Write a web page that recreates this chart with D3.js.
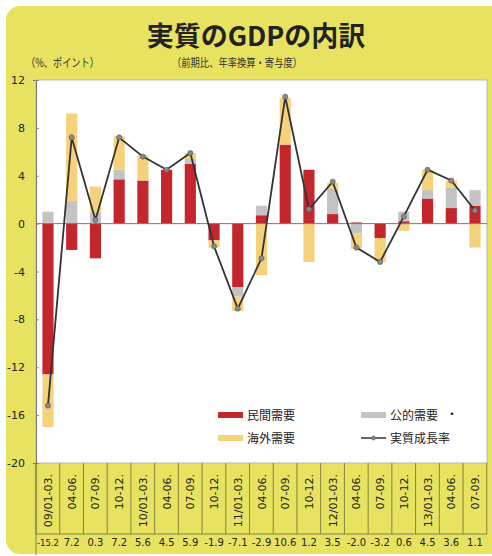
<!DOCTYPE html>
<html>
<head>
<meta charset="utf-8">
<script src="https://cdn.jsdelivr.net/npm/d3@7"></script>
<style>
  body { margin: 0; background: #fff; }
  svg { display: block; }
</style>
</head>
<body>
<svg></svg>
<script>
// quarters (label shown on the axis)
const categories = ["09/01-03.", "04-06.", "07-09.", "10-12.", "10/01-03.", "04-06.", "07-09.", "10-12.",
    "11/01-03.", "04-06.", "07-09.", "10-12.", "12/01-03.", "04-06.", "07-09.", "10-12.",
    "13/01-03.", "04-06.", "07-09."];

// contributions (% points)
const privateDemand = [-12.6, -2.2, -2.9, 3.7, 3.6, 4.5, 5.0, -1.4, -5.3, 0.7, 6.6, 4.5, 0.8, 0.1, -1.2, 0.2, 2.1, 1.3, 1.5];
const publicDemand = [1.0, 1.9, 0.9, 0.8, 0, 0, 0.4, 0, -0.8, 0.8, 0, 0, 2.1, -0.8, 0, 0.8, 0.7, 1.7, 1.3];
const externalDemand = [-4.4, 7.3, 2.2, 2.8, 2.1, 0, 0.5, -0.6, -1.2, -4.3, 3.9, -3.2, 0.5, -1.3, -2.0, -0.6, 1.7, 0.6, -2.0];
const growth = [-15.2, 7.2, 0.3, 7.2, 5.6, 4.5, 5.9, -1.9, -7.1, -2.9, 10.6, 1.2, 3.5, -2.0, -3.2, 0.6, 4.5, 3.6, 1.1];

const yTicks = [12, 8, 4, 0, -4, -8, -12, -16, -20];

const width = 492, height = 556;
const svg = d3.select("svg").attr("width", width).attr("height", height);

const jp = "'Noto Sans CJK JP', sans-serif";
const num = "'DejaVu Sans', Verdana, sans-serif";
const fmt = v => d3.format(".1f")(v).replace("\u2212", "-");

// yellow page
svg.append("rect")
    .attr("x", 6).attr("y", 6)
    .attr("width", 510).attr("height", 548)
    .attr("rx", 14)
    .attr("fill", "#e7e360");

// title
svg.append("text")
    .attr("x", 256).attr("y", 46)
    .attr("text-anchor", "middle")
    .attr("font-family", jp).attr("font-weight", 700)
    .attr("font-size", 27)
    .attr("fill", "#222")
    .text("実質のGDPの内訳");

svg.append("text")
    .attr("x", 26).attr("y", 67)
    .attr("font-family", jp).attr("font-size", 11.5)
    .attr("textLength", 73).attr("lengthAdjust", "spacingAndGlyphs")
    .attr("fill", "#333")
    .text("（%、ポイント）");
svg.append("text")
    .attr("x", 172).attr("y", 67)
    .attr("font-family", jp).attr("font-size", 11.5)
    .attr("textLength", 130).attr("lengthAdjust", "spacingAndGlyphs")
    .attr("fill", "#333")
    .text("（前期比、年率換算・寄与度）");

// scales
const plotL = 36, plotR = 487, plotT = 80, plotB = 463;
const x = d3.scaleBand()
    .domain(d3.range(categories.length))
    .range([plotL, plotR])
    .paddingInner(0.53).paddingOuter(0.27);
const y = d3.scaleLinear().domain([-20, 12]).range([plotB, plotT]);
const step = x.step();

// plot area
svg.append("rect")
    .attr("x", plotL).attr("y", plotT)
    .attr("width", plotR - plotL).attr("height", plotB - plotT)
    .attr("fill", "#fff")
    .attr("stroke", "#aaa").attr("stroke-width", 0.8);

// y axis
const yAxis = svg.append("g")
    .attr("transform", `translate(${plotL},0)`)
    .call(d3.axisLeft(y).tickValues(yTicks).tickSize(3).tickPadding(8).tickFormat(d => String(d)));
yAxis.select(".domain").attr("stroke", "#777");
yAxis.selectAll(".tick line").attr("stroke", "#888").attr("transform", "translate(3,0)");
yAxis.selectAll("text")
    .attr("font-family", num).attr("font-size", 11)
    .attr("fill", "#222");

// stacked bars
const rows = categories.map((c, i) => ({
    i: i,
    priv: privateDemand[i],
    pub: publicDemand[i],
    ext: externalDemand[i]
}));
const keys = ["priv", "pub", "ext"];
const colors = { priv: "#c4262e", pub: "#c3c3c3", ext: "#f4d27c" };
const series = d3.stack().keys(keys).offset(d3.stackOffsetDiverging)(rows);

svg.append("g").selectAll("g")
    .data(series)
    .join("g")
    .attr("fill", d => colors[d.key])
    .selectAll("rect")
    .data(d => d)
    .join("rect")
    .attr("x", d => x(d.data.i))
    .attr("width", x.bandwidth())
    .attr("y", d => y(Math.max(d[0], d[1])))
    .attr("height", d => Math.abs(y(d[0]) - y(d[1])));

// zero line
svg.append("line")
    .attr("x1", plotL).attr("x2", plotR)
    .attr("y1", y(0)).attr("y2", y(0))
    .attr("stroke", "#777").attr("stroke-width", 1);

// growth line
const line = d3.line()
    .x((d, i) => x(i) + x.bandwidth() / 2)
    .y(d => y(d));
svg.append("path")
    .datum(growth)
    .attr("d", line)
    .attr("fill", "none")
    .attr("stroke", "#333")
    .attr("stroke-width", 1.8);
svg.append("g").selectAll("circle")
    .data(growth)
    .join("circle")
    .attr("cx", (d, i) => x(i) + x.bandwidth() / 2)
    .attr("cy", d => y(d))
    .attr("r", 2.6)
    .attr("fill", "#888")
    .attr("stroke", "#555").attr("stroke-width", 0.6);

// category table under the plot
const tableB = 534;
const table = svg.append("g");
table.selectAll("line.div")
    .data(d3.range(categories.length + 1))
    .join("line")
    .attr("class", "div")
    .attr("x1", i => plotL + i * step).attr("x2", i => plotL + i * step)
    .attr("y1", plotB).attr("y2", tableB)
    .attr("stroke", "#6d6a3a").attr("stroke-width", 0.8);
table.append("line")
    .attr("x1", plotL).attr("x2", plotR)
    .attr("y1", tableB).attr("y2", tableB)
    .attr("stroke", "#6d6a3a").attr("stroke-width", 0.8);
table.append("line")
    .attr("x1", plotL).attr("x2", plotL)
    .attr("y1", plotB).attr("y2", 555)
    .attr("stroke", "#6d6a3a").attr("stroke-width", 0.8);

table.selectAll("text.cat")
    .data(categories)
    .join("text")
    .attr("class", "cat")
    .attr("transform", (d, i) => `translate(${x(i) + x.bandwidth() / 2 + 4},${474}) rotate(-90)`)
    .attr("text-anchor", "end")
    .attr("font-family", num).attr("font-size", 11)
    .attr("fill", "#222")
    .text(d => d);

table.selectAll("text.val")
    .data(growth)
    .join("text")
    .attr("class", "val")
    .attr("x", (d, i) => x(i) + x.bandwidth() / 2)
    .attr("y", 546)
    .attr("text-anchor", "middle")
    .attr("font-family", num)
    .attr("font-size", d => fmt(d).length > 4 ? 8.5 : 10)
    .attr("fill", "#222")
    .text(d => fmt(d));

// legend
const legend = svg.append("g").attr("font-family", jp).attr("font-size", 12).attr("fill", "#222");
const legendItems = [
    { label: "民間需要", type: "bar", color: colors.priv, lx: 218, ly: 415 },
    { label: "公的需要", type: "bar", color: colors.pub, lx: 361, ly: 415 },
    { label: "海外需要", type: "bar", color: colors.ext, lx: 218, ly: 438 },
    { label: "実質成長率", type: "line", color: "#333", lx: 361, ly: 438 }
];
legendItems.forEach(it => {
    if (it.type === "bar") {
        legend.append("rect")
            .attr("x", it.lx).attr("y", it.ly - 3)
            .attr("width", 25).attr("height", 6)
            .attr("fill", it.color);
    } else {
        legend.append("line")
            .attr("x1", it.lx).attr("x2", it.lx + 25)
            .attr("y1", it.ly).attr("y2", it.ly)
            .attr("stroke", it.color).attr("stroke-width", 1.5);
        legend.append("circle")
            .attr("cx", it.lx + 12.5).attr("cy", it.ly)
            .attr("r", 2).attr("fill", "#888").attr("stroke", "#555").attr("stroke-width", 0.6);
    }
    legend.append("text")
        .attr("x", it.lx + 29).attr("y", it.ly + 4.5)
        .text(it.label);
});
legend.append("text").attr("x", 446).attr("y", 419).text("・");
</script>
</body>
</html>
